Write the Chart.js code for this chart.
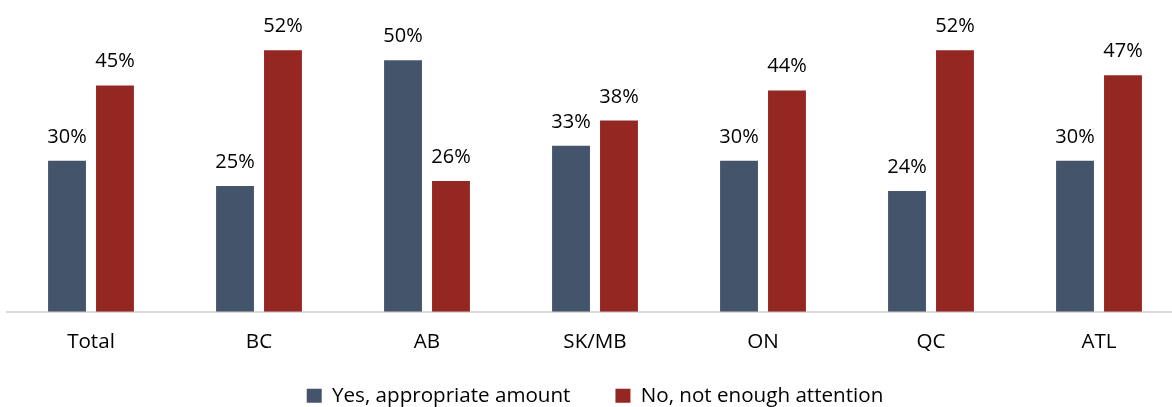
<!DOCTYPE html>
<html>
<head>
<meta charset="utf-8">
<script src="https://cdn.jsdelivr.net/npm/chart.js@4.4.1/dist/chart.umd.min.js"></script>
<style>
html,body{margin:0;padding:0;overflow:hidden;background:#fff;}
#wrap{position:relative;width:1184px;height:416px;}
</style>
</head>
<body>
<div id="wrap"><canvas id="c"></canvas></div>
<script>
const categories = ["Total","BC","AB","SK/MB","ON","QC","ATL"];
const yesValues = [30,25,50,33,30,24,30];
const noValues = [45,52,26,38,44,52,47];
const seriesNames = ["Yes, appropriate amount","No, not enough attention"];

const FONT = "'Open Sans', sans-serif";

const valueLabels = {
  id: 'valueLabels',
  afterDatasetsDraw(chart) {
    const ctx = chart.ctx;
    ctx.save();
    ctx.fillStyle = '#000';
    ctx.font = "20px " + FONT;
    ctx.textAlign = 'center';
    ctx.textBaseline = 'alphabetic';
    chart.data.datasets.forEach((ds, i) => {
      chart.getDatasetMeta(i).data.forEach((bar, j) => {
        ctx.fillText(ds.data[j] + '%', bar.x, bar.y - 18);
      });
    });
    ctx.restore();
  }
};

new Chart(document.getElementById('c'), {
  type: 'bar',
  data: {
    labels: categories,
    datasets: [
      {label: seriesNames[0], data: yesValues, backgroundColor: '#44546a'},
      {label: seriesNames[1], data: noValues, backgroundColor: '#952722'}
    ]
  },
  options: {
    responsive: true,
    maintainAspectRatio: false,
    animation: false,
    layout: {padding: {left: 7, right: 1, top: 10, bottom: 0}},
    datasets: {bar: {categoryPercentage: 0.571, barPercentage: 0.79}},
    scales: {
      x: {
        grid: {display: false, drawTicks: false},
        border: {display: true, color: '#d9d9d9', width: 2},
        ticks: {color: '#000', font: {family: FONT, size: 20.6}, padding: -43, mirror: true},
        afterFit(scale) { scale.height = 28.7; }
      },
      y: {display: false, min: 0, max: 60}
    },
    plugins: {
      legend: {
        position: 'bottom',
        labels: {color: '#000', font: {family: FONT, size: 20.6}, boxWidth: 15, boxHeight: 14, padding: 45}
      },
      tooltip: {enabled: false}
    }
  },
  plugins: [valueLabels]
});
</script>
</body>
</html>
